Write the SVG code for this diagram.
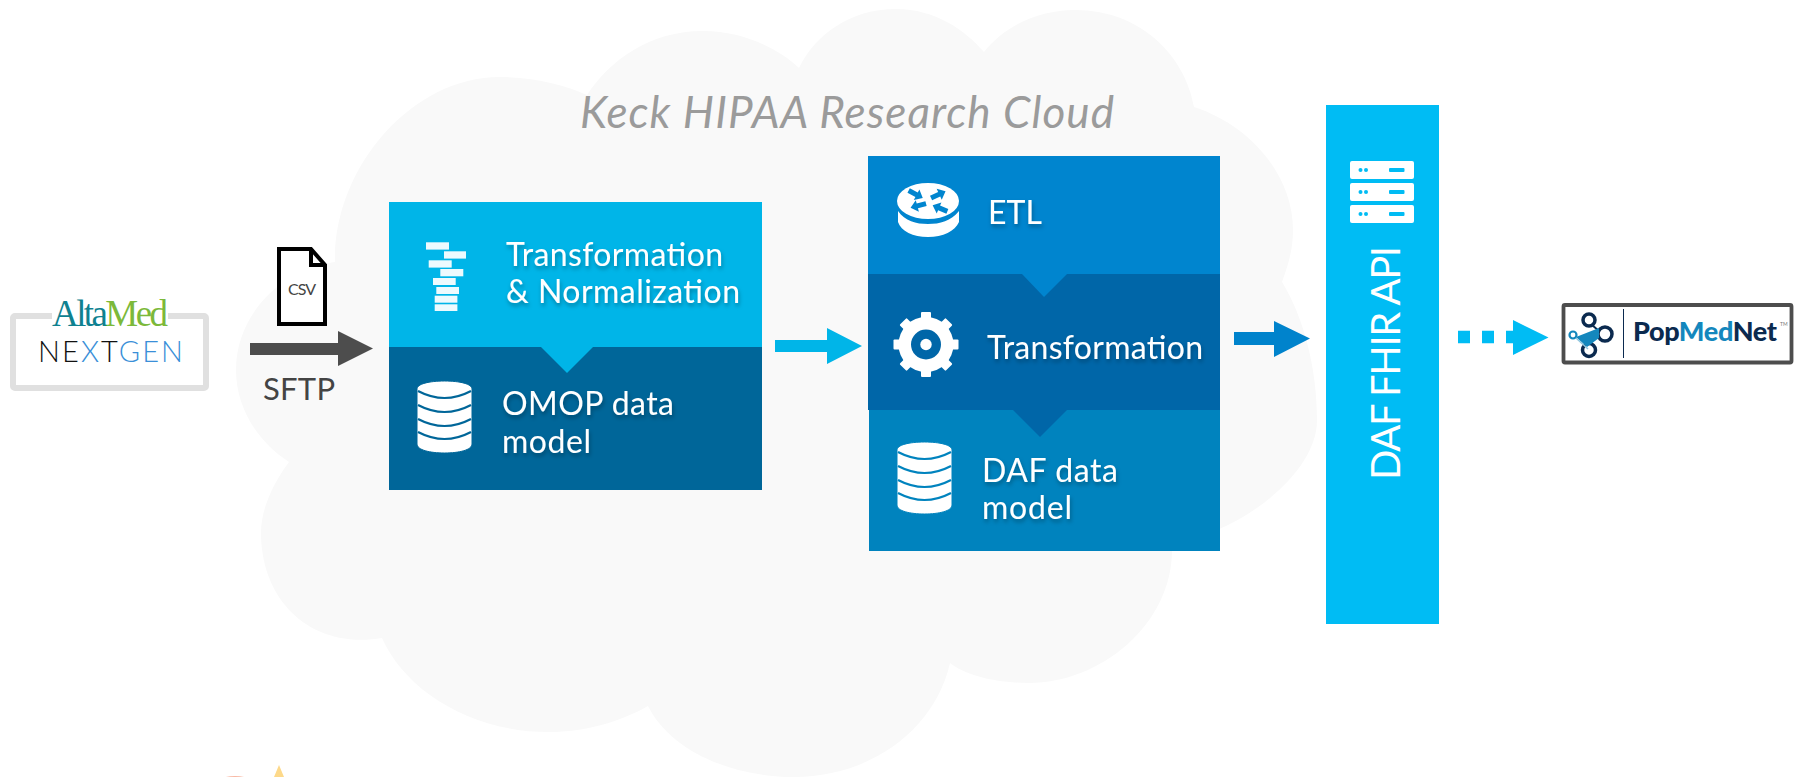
<svg xmlns="http://www.w3.org/2000/svg" xmlns:xlink="http://www.w3.org/1999/xlink" width="1802" height="777" viewBox="0 0 1802 777">
<style>
text{font-family:"Lato","Liberation Sans",sans-serif}
.w{fill:#fff;font-size:32px;filter:url(#ts)}
.bar{fill:#fff;opacity:.93}
.s{fill:none;stroke-width:2.2}
</style>
<defs>
<filter id="ts" x="-10%" y="-30%" width="120%" height="170%"><feDropShadow dx="1" dy="3" stdDeviation="2" flood-color="#000" flood-opacity=".3"/></filter>
<path id="dbbody" fill="#fff" d="M0 8C0 3 12 0 27.5 0S55 3 55 8V63C55 69 42 72 27.5 72S0 69 0 63Z"/>
<path id="dbarcs" class="s" d="M1 10Q27.5 24 54 10M1 24Q27.5 38 54 24M1 38Q27.5 52 54 38M1 51Q27.5 65 54 51"/>
<polygon id="ra" fill="#0085cf" points="-8,-2.5 1,-2.5 1,-6 8,0 1,6 1,2.5 -8,2.5"/>
<rect id="tooth" x="-5" y="-32.500" width="10" height="12" rx="1" fill="#fff"/>
<g id="srv"><rect width="64" height="18" rx="2" fill="#fff"/><circle cx="10.500" cy="9" r="2" fill="#00bcf4"/><circle cx="16" cy="9" r="2" fill="#00bcf4"/><rect x="39" y="7" width="15.500" height="4" rx="1" fill="#00bcf4"/></g>
</defs>
<rect width="1802" height="777" fill="#fff"/>
<g id="cloud">
<path fill="#f9f9f9" d="M335 262C333 170 410 77 500 77C535 77 565 85 587 95C610 60 650 31 703 31C745 31 780 50 799 68C815 35 850 9 896 9C935 9 965 30 984 52C1005 25 1040 10 1075 10C1140 10 1185 55 1194 107C1250 125 1293 175 1293 230C1293 250 1288 265 1282 282C1305 320 1317 370 1317 420C1317 465 1265 510 1217 530L1172 550C1172 625 1100 683 1029 683C995 683 965 675 950 663C935 730 870 777 794 777C730 777 670 750 648 706C620 722 585 732 549 732C470 732 405 690 382 638C310 650 261 600 261 533C261 510 272 485 289 462C255 440 236 405 236 370C236 315 280 270 335 262Z"/>
<text x="580" y="128" font-size="44" font-style="italic" fill="#9b9b9b" textLength="534">Keck HIPAA Research Cloud</text>
</g>
<g id="source-altamed-nextgen">
<rect x="13" y="316" width="193" height="72" rx="2" fill="#fff" stroke="#e0e0e0" stroke-width="6"/>
<rect x="52" y="308" width="116" height="16" fill="#fff"/>
<text x="52" y="326" font-size="37" style="font-family:'Liberation Serif',serif" textLength="116"><tspan fill="#0f8190">Alta</tspan><tspan fill="#7cb93a">Med</tspan></text>
<text x="38" y="362" font-size="29" font-weight="300" textLength="145"><tspan fill="#111">NE</tspan><tspan fill="#3a8fd8">X</tspan><tspan fill="#111">T</tspan><tspan fill="#3a8fd8">GEN</tspan></text>
</g>
<g id="csv-file">
<path fill="#fff" stroke="#000" stroke-width="4" d="M279 249H311L325 265V324H279Z"/>
<path fill="none" stroke="#000" stroke-width="4" d="M311 249V265H325"/>
<text x="288" y="295" font-size="16" fill="#444" textLength="28">CSV</text>
</g>
<g id="sftp-label"><text x="263" y="400" font-size="31" fill="#444" textLength="72">SFTP</text></g>
<g id="omop-block">
<rect x="389" y="347" width="373" height="143" fill="#006699"/>
<rect x="389" y="202" width="373" height="145" fill="#00b5e8"/>
<polygon points="541,347 593,347 567,373" fill="#00b5e8"/>
<g>
<rect class="bar" x="426" y="242.300" width="23" height="7.300"/><rect class="bar" x="444" y="251.300" width="22" height="7.300"/><rect class="bar" x="428.700" y="260.300" width="23" height="7.300"/><rect class="bar" x="440.300" y="269" width="23" height="7.300"/><rect class="bar" x="433" y="278" width="22.700" height="7"/><rect class="bar" x="436.300" y="287" width="22.700" height="7"/><rect class="bar" x="434.700" y="295.700" width="22.700" height="7"/><rect class="bar" x="434.700" y="304.300" width="22.700" height="6.700"/>
</g>
<text class="w" x="506" y="266" textLength="217">Transformation</text>
<text class="w" x="506" y="303" textLength="234">&amp; Normalization</text>
<g transform="translate(417 381)" stroke="#006699"><use xlink:href="#dbbody" href="#dbbody"/><use xlink:href="#dbarcs" href="#dbarcs"/></g>
<text class="w" x="502" y="415" textLength="172">OMOP data</text>
<text class="w" x="502" y="453" textLength="89">model</text>
</g>
<g id="daf-block">
<rect x="869" y="410" width="351" height="141" fill="#0083be"/>
<rect x="868" y="156" width="352" height="118" fill="#0085cf"/>
<rect x="868" y="274" width="352" height="136" fill="#0066a8"/>
<polygon points="1022,274 1067,274 1044,297" fill="#0085cf"/>
<polygon points="1013,410 1067,410 1040,437" fill="#0066a8"/>
<g id="router">
<path fill="#fff" d="M898 211C905 221 916 224 928 224S951 221 959 211V222C955 231 943 237 928 237S901 231 898 222Z"/>
<ellipse cx="928" cy="201" rx="31" ry="18" fill="#fff"/>
<use xlink:href="#ra" href="#ra" transform="translate(915.700 194.300) rotate(28)"/>
<use xlink:href="#ra" href="#ra" transform="translate(938.300 194.700) rotate(-25)"/>
<use xlink:href="#ra" href="#ra" transform="translate(918.300 205.700) rotate(165)"/>
<use xlink:href="#ra" href="#ra" transform="translate(940 208.300) rotate(203)"/>
</g>
<text class="w" x="988" y="224" textLength="54">ETL</text>
<g id="gear" transform="translate(926 344.500)">
<use xlink:href="#tooth" href="#tooth"/><use xlink:href="#tooth" href="#tooth" transform="rotate(45)"/><use xlink:href="#tooth" href="#tooth" transform="rotate(90)"/><use xlink:href="#tooth" href="#tooth" transform="rotate(135)"/><use xlink:href="#tooth" href="#tooth" transform="rotate(180)"/><use xlink:href="#tooth" href="#tooth" transform="rotate(225)"/><use xlink:href="#tooth" href="#tooth" transform="rotate(270)"/><use xlink:href="#tooth" href="#tooth" transform="rotate(315)"/>
<circle r="27.500" fill="#fff"/><circle r="15" fill="#0066a8"/><circle r="5.700" fill="#fff"/>
</g>
<text class="w" x="987" y="359" textLength="216">Transformation</text>
<g transform="translate(897 442)" stroke="#0083be"><use xlink:href="#dbbody" href="#dbbody"/><use xlink:href="#dbarcs" href="#dbarcs"/></g>
<text class="w" x="982" y="482" textLength="136">DAF data</text>
<text class="w" x="982" y="519" textLength="90">model</text>
</g>
<g id="daf-fhir-api">
<rect x="1326" y="105" width="113" height="519" fill="#00bcf4"/>
<use xlink:href="#srv" href="#srv" x="1350" y="161"/><use xlink:href="#srv" href="#srv" x="1350" y="183"/><use xlink:href="#srv" href="#srv" x="1350" y="205"/>
<text transform="translate(1400 480) rotate(-90)" font-size="40" fill="#fff" textLength="234">DAF FHIR API</text>
</g>
<g id="connectors">
<polygon fill="#4d4d4d" points="250,343 338,343 338,331 373,348.500 338,366 338,355 250,355"/>
<polygon fill="#00b5e8" points="775,340 827,340 827,328 862,346 827,364 827,352 775,352"/>
<polygon fill="#0083cc" points="1234,332 1274,332 1274,321 1310,338.500 1274,357 1274,345 1234,345"/>
<line x1="1458" y1="337" x2="1515" y2="337" stroke="#00bcf4" stroke-width="12.500" stroke-dasharray="12 12"/>
<polygon fill="#00bcf4" points="1513,320 1548.500,337.500 1513,355"/>
</g>
<g id="popmednet">
<rect x="1563.500" y="305" width="228" height="57.500" rx="1.500" fill="#fff" stroke="#4d4d4d" stroke-width="3.800"/>
<g fill="none" stroke="#0b2a4f">
<circle cx="1589" cy="320" r="6" stroke-width="3.500"/>
<circle cx="1605" cy="334" r="7" stroke-width="3.500"/>
<circle cx="1589" cy="350" r="6.500" stroke-width="3.500"/>
<path d="M1592 325L1599 331" stroke-width="2"/>
</g>
<polygon fill="#1487bd" points="1576,337 1599,328 1599,338 1587,347"/>
<circle cx="1573" cy="335" r="3.500" fill="#fff" stroke="#1487bd" stroke-width="2.200"/>
<path d="M1576 338L1588 349" stroke="#8fc6df" stroke-width="1.500"/>
<line x1="1623.500" y1="309" x2="1623.500" y2="358" stroke="#0b2a4f" stroke-width="1"/>
<text x="1633" y="341" font-size="27" font-weight="900" textLength="144"><tspan fill="#0b2a4f">Pop</tspan><tspan fill="#1487bd">Med</tspan><tspan fill="#0b2a4f">Net</tspan></text>
<text x="1780" y="326" font-size="5" fill="#777">TM</text>
</g>
<g id="bottom-fragment">
<ellipse cx="235" cy="779.500" rx="13" ry="3.500" fill="#f8b8a4"/>
<polygon points="279,765 274,777 284,777" fill="#fdd98a"/>
</g>
</svg>
